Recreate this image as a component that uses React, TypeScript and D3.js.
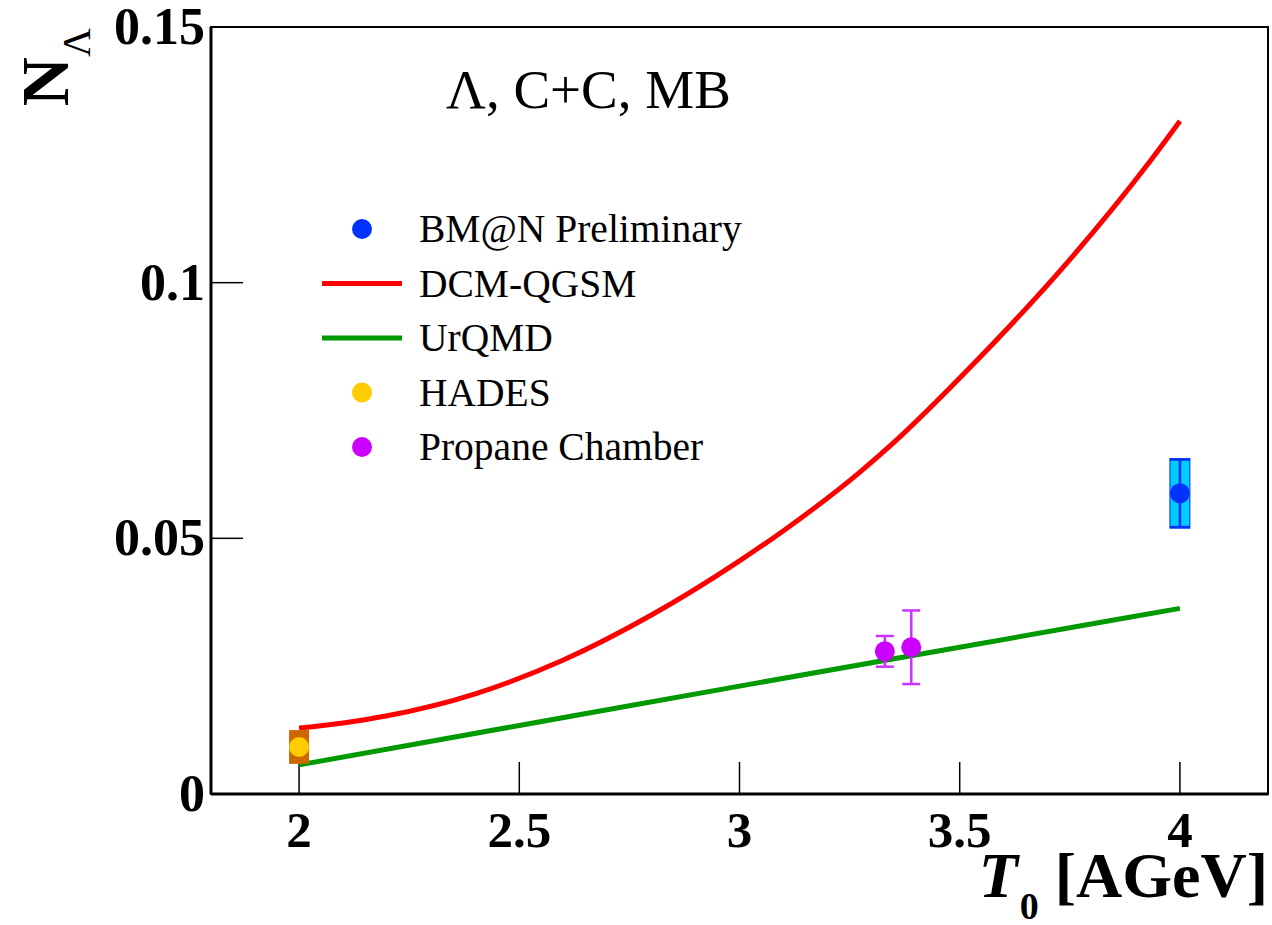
import * as d3 from "d3";

// DCM-QGSM model curve
const dcmT = [2.0, 2.1, 2.2, 2.4, 2.6, 2.8, 3.0, 3.1, 3.27, 3.35, 3.52, 3.75, 3.93, 4.0];
const dcmN = [0.0129, 0.0139, 0.0153, 0.0196, 0.0262, 0.035, 0.0456, 0.0515, 0.0627, 0.0687, 0.0831, 0.1045, 0.1235, 0.1316];

// UrQMD model curve
const urqmdT = [2.0, 2.5, 3.0, 3.5, 4.0];
const urqmdN = [0.0057, 0.0134, 0.0211, 0.0287, 0.0363];

// BM@N preliminary
const bmnT = [4.0];
const bmnN = [0.0588];
const bmnStat = [0.0066];
const bmnSys = [0.0068];

// HADES
const hadesT = [2.0];
const hadesN = [0.0092];
const hadesSys = [0.0033];

// Propane chamber
const propT = [3.33, 3.39];
const propN = [0.0279, 0.0287];
const propErr = [0.003, 0.0072];

const xTicks = [2, 2.5, 3, 3.5, 4];
const yTicks = [0, 0.05, 0.1, 0.15];

const legendLabels = ["BM@N Preliminary", "DCM-QGSM", "UrQMD", "HADES", "Propane Chamber"];
const legendKinds = ["marker", "line", "line", "marker", "marker"];
const legendColors = ["#0033ff", "#ff0000", "#009900", "#ffcc00", "#cc00ff"];

const W = 1272, H = 925;
const left = 211, right = 1268, top = 27, bottom = 794;
const serif = "'Liberation Serif', 'Times New Roman', serif";

export default function App() {
  const x = d3.scaleLinear().domain([1.8, 4.2]).range([left, right]);
  const y = d3.scaleLinear().domain([0, 0.15]).range([bottom, top]);

  const line = d3.line<[number, number]>()
    .x(d => x(d[0]))
    .y(d => y(d[1]))
    .curve(d3.curveMonotoneX);

  const dcm = dcmT.map((t, i) => [t, dcmN[i]] as [number, number]);
  const urqmd = urqmdT.map((t, i) => [t, urqmdN[i]] as [number, number]);

  const boxW = 20;
  const capW = 18;

  return (
    <svg width={W} height={H} style={{ position: "absolute", left: 0, top: 0, background: "#fff" }}
      fontFamily={serif}>
      {/* frame */}
      <rect x={left} y={top} width={right - left} height={bottom - top} fill="none" stroke="#000" strokeWidth={2} />
      <line x1={left} x2={left} y1={top} y2={bottom} stroke="#000" strokeWidth={3} />
      <line x1={left} x2={right} y1={bottom} y2={bottom} stroke="#000" strokeWidth={3} />

      {/* ticks */}
      {xTicks.map(t => (
        <g key={"xt" + t}>
          <line x1={x(t)} x2={x(t)} y1={bottom} y2={bottom - 32} stroke="#000" strokeWidth={1.5} />
          <text x={x(t)} y={847} textAnchor="middle" fontSize={51} fontWeight="bold">{d3.format("")(t)}</text>
        </g>
      ))}
      {yTicks.map(t => (
        <g key={"yt" + t}>
          {t > 0 && t < 0.15 && (
            <line x1={left} x2={left + 32} y1={y(t)} y2={y(t)} stroke="#000" strokeWidth={1.5} />
          )}
          <text x={205} y={y(t) + 17} textAnchor="end" fontSize={52} fontWeight="bold">{d3.format("")(t)}</text>
        </g>
      ))}

      {/* axis titles */}
      <text x={1268} y={897} textAnchor="end" fontSize={64} fontWeight="bold">
        <tspan fontStyle="italic">T</tspan>
        <tspan fontSize={38} dx={2} dy={22}>0</tspan>
        <tspan dy={-22}> [AGeV]</tspan>
      </text>
      <text transform="translate(68,28) rotate(-90)" textAnchor="end" fontSize={68} fontWeight="bold">
        <tspan>N</tspan>
        <tspan fontSize={40} fontWeight="normal" dy={22}>Λ</tspan>
      </text>

      {/* label */}
      <text x={446} y={108} fontSize={55}>Λ, C+C, MB</text>

      {/* model curves */}
      <path d={line(dcm) ?? ""} fill="none" stroke="#ff0000" strokeWidth={5} />
      <path d={line(urqmd) ?? ""} fill="none" stroke="#009900" strokeWidth={5} />

      {/* HADES */}
      {hadesT.map((t, i) => (
        <g key={"h" + i}>
          <rect x={x(t) - boxW / 2} y={y(hadesN[i] + hadesSys[i])} width={boxW}
            height={y(hadesN[i] - hadesSys[i]) - y(hadesN[i] + hadesSys[i])} fill="#cc6600" />
          <circle cx={x(t)} cy={y(hadesN[i])} r={10} fill="#ffcc00" />
        </g>
      ))}

      {/* Propane chamber */}
      {propT.map((t, i) => {
        const y1 = y(propN[i] + propErr[i]);
        const y2 = y(propN[i] - propErr[i]);
        return (
          <g key={"p" + i} stroke="#cc33ff" strokeWidth={2.5}>
            <line x1={x(t)} x2={x(t)} y1={y1} y2={y2} />
            <line x1={x(t) - capW / 2} x2={x(t) + capW / 2} y1={y1} y2={y1} />
            <line x1={x(t) - capW / 2} x2={x(t) + capW / 2} y1={y2} y2={y2} />
            <circle cx={x(t)} cy={y(propN[i])} r={10} fill="#cc00ff" stroke="none" />
          </g>
        );
      })}

      {/* BM@N */}
      {bmnT.map((t, i) => {
        const s1 = y(bmnN[i] + bmnSys[i]);
        const s2 = y(bmnN[i] - bmnSys[i]);
        const e1 = y(bmnN[i] + bmnStat[i]);
        const e2 = y(bmnN[i] - bmnStat[i]);
        return (
          <g key={"b" + i}>
            <rect x={x(t) - boxW / 2} y={s1} width={boxW} height={s2 - s1} fill="#00ccff" stroke="#0033ff" strokeWidth={1} />
            <g stroke="#0033ff" strokeWidth={2.5}>
              <line x1={x(t)} x2={x(t)} y1={e1} y2={e2} />
              <line x1={x(t) - boxW / 2} x2={x(t) + boxW / 2} y1={e1} y2={e1} />
              <line x1={x(t) - boxW / 2} x2={x(t) + boxW / 2} y1={e2} y2={e2} />
            </g>
            <circle cx={x(t)} cy={y(bmnN[i])} r={10} fill="#0033ff" />
          </g>
        );
      })}

      {/* legend */}
      {legendLabels.map((lab, i) => {
        const ly = 229 + i * 54.5;
        return (
          <g key={"l" + i}>
            {legendKinds[i] === "line" ? (
              <line x1={322} x2={402} y1={ly} y2={ly} stroke={legendColors[i]} strokeWidth={5} />
            ) : (
              <circle cx={362} cy={ly} r={10} fill={legendColors[i]} />
            )}
            <text x={419} y={ly + 13} fontSize={39.5}>{lab}</text>
          </g>
        );
      })}
    </svg>
  );
}
